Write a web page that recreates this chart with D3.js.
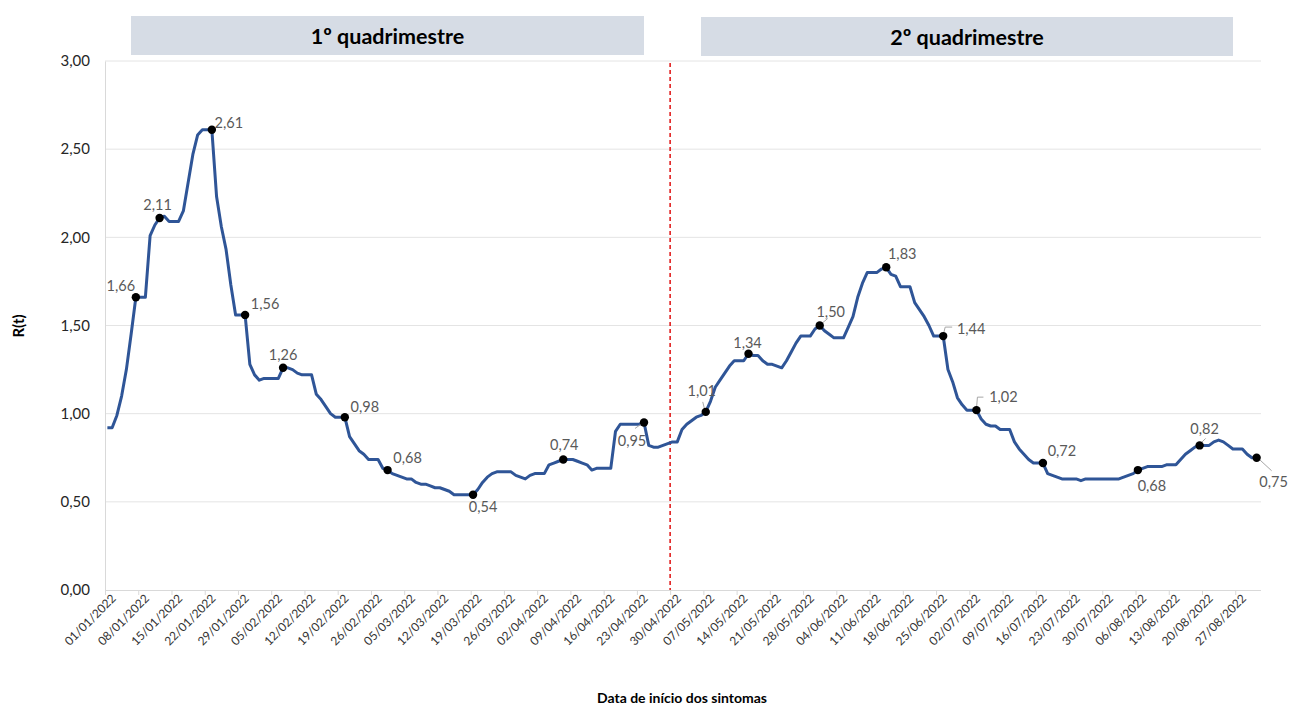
<!DOCTYPE html>
<html lang="pt">
<head>
<meta charset="utf-8">
<script src="https://cdn.jsdelivr.net/npm/d3@7"></script>
<style>
  html, body { margin: 0; padding: 0; background: #ffffff; }
  svg { display: block; font-family: Lato, "Open Sans", sans-serif; }
</style>
</head>
<body>
<svg id="chart" width="1291" height="704"></svg>
<script>
// Daily R(t) from 01/01/2022 onwards, by date of symptom onset
const startDate = "2022-01-01";
const rtValues = [
  0.92, 0.92, 0.99, 1.10, 1.25, 1.45, 1.66, 1.66, 1.66, 2.01, 2.07,
  2.11, 2.12, 2.09, 2.09, 2.09, 2.15, 2.31, 2.47, 2.58, 2.61,
  2.61, 2.61, 2.23, 2.06, 1.93, 1.73, 1.56, 1.56, 1.56, 1.28,
  1.22, 1.19, 1.20, 1.20, 1.20, 1.20, 1.26, 1.26, 1.25, 1.23,
  1.22, 1.22, 1.22, 1.11, 1.08, 1.04, 1.00, 0.98, 0.98, 0.98,
  0.87, 0.83, 0.79, 0.77, 0.74, 0.74, 0.74, 0.69, 0.68, 0.66,
  0.65, 0.64, 0.63, 0.63, 0.61, 0.60, 0.60, 0.59, 0.58, 0.58,
  0.57, 0.56, 0.54, 0.54, 0.54, 0.54, 0.54, 0.57, 0.61, 0.64,
  0.66, 0.67, 0.67, 0.67, 0.67, 0.65, 0.64, 0.63, 0.65, 0.66,
  0.66, 0.66, 0.71, 0.72, 0.73, 0.74, 0.74, 0.74, 0.73, 0.72,
  0.71, 0.68, 0.69, 0.69, 0.69, 0.69, 0.90, 0.94, 0.94, 0.94,
  0.94, 0.94, 0.95, 0.82, 0.81, 0.81, 0.82, 0.83, 0.84, 0.84,
  0.91, 0.94, 0.96, 0.98, 0.99, 1.01, 1.07, 1.15, 1.19, 1.23,
  1.27, 1.30, 1.30, 1.30, 1.34, 1.33, 1.33, 1.30, 1.28, 1.28,
  1.27, 1.26, 1.30, 1.35, 1.40, 1.44, 1.44, 1.44, 1.48, 1.50,
  1.47, 1.45, 1.43, 1.43, 1.43, 1.49, 1.55, 1.66, 1.74, 1.80,
  1.80, 1.80, 1.82, 1.83, 1.79, 1.78, 1.72, 1.72, 1.72, 1.63,
  1.59, 1.55, 1.50, 1.44, 1.44, 1.44, 1.25, 1.18, 1.09, 1.05,
  1.02, 1.02, 1.02, 0.97, 0.94, 0.93, 0.93, 0.91, 0.91, 0.91,
  0.84, 0.80, 0.77, 0.74, 0.72, 0.72, 0.72, 0.66, 0.65, 0.64,
  0.63, 0.63, 0.63, 0.63, 0.62, 0.63, 0.63, 0.63, 0.63, 0.63,
  0.63, 0.63, 0.63, 0.64, 0.65, 0.66, 0.68, 0.69, 0.70, 0.70,
  0.70, 0.70, 0.71, 0.71, 0.71, 0.74, 0.77, 0.79, 0.81, 0.82,
  0.82, 0.82, 0.84, 0.85, 0.84, 0.82, 0.80, 0.80, 0.80, 0.77,
  0.75, 0.75
];

// Days whose value is marked and labelled on the curve
const highlightDates = [
  "2022-01-07", "2022-01-12", "2022-01-23", "2022-01-30", "2022-02-07",
  "2022-02-20", "2022-03-01", "2022-03-19", "2022-04-07", "2022-04-24",
  "2022-05-07", "2022-05-16", "2022-05-31", "2022-06-14", "2022-06-26",
  "2022-07-03", "2022-07-17", "2022-08-06", "2022-08-19", "2022-08-31"
];

// Four-month periods shown as banners, and the boundary between them
const periodNames = ["1º quadrimestre", "2º quadrimestre"];
const periodBoundary = "2022-04-30";
const axisEnd = "2022-09-01";
const yTickValues = [0, 0.5, 1, 1.5, 2, 2.5, 3];

// Label offsets (dx, dy from the marker) and optional leader lines
const labelPlacement = [
  { dx: -15, dy: -12 }, { dx: -2, dy: -13 }, { dx: 17, dy: -7 }, { dx: 20, dy: -11 },
  { dx: 0, dy: -13 }, { dx: 20, dy: -11 }, { dx: 20, dy: -13 }, { dx: 10, dy: 12 },
  { dx: 1, dy: -15 },
  { dx: -12, dy: 18, leader: [[-2, 1], [-9, 6]] },
  { dx: -4, dy: -21, leader: [[-1, -2], [-3, -10]] },
  { dx: -1, dy: -11 },
  { dx: 11, dy: -14, leader: [[2, -2], [8, -7]] },
  { dx: 16, dy: -14 },
  { dx: 28, dy: -8, leader: [[0, -1], [2, -9], [9, -9]] },
  { dx: 27, dy: -14, leader: [[0, -1], [1, -13], [7, -13]] },
  { dx: 19, dy: -13 },
  { dx: 14, dy: 15 },
  { dx: 5, dy: -17, leader: [[1, -2], [6, -7]] },
  { dx: 17, dy: 24, leader: [[2, 1], [15, 13]] }
];

const parseDay = d3.timeParse("%Y-%m-%d");
const t0 = parseDay(startDate);
// each daily value sits in the middle of its day
const series = rtValues.map((v, i) => ({ date: d3.timeHour.offset(d3.timeDay.offset(t0, i), 12), value: v }));

const ptLocale = d3.formatLocale({ decimal: ",", thousands: ".", grouping: [3], currency: ["R$", ""] });
const fmt2 = ptLocale.format(".2f");

const svg = d3.select("#chart");
const plot = { left: 105, right: 1259, top: 61, bottom: 590, gridRight: 1261 };

const x = d3.scaleTime().domain([t0, parseDay(axisEnd)]).range([plot.left, plot.right]);
const y = d3.scaleLinear().domain([0, 3]).range([plot.bottom, plot.top]);

// Banners for each period
const banners = [
  { name: periodNames[0], x0: 131, x1: 644, y0: 16 },
  { name: periodNames[1], x0: 701, x1: 1233, y0: 17 }
];
const bannerG = svg.append("g");
bannerG.selectAll("rect").data(banners).join("rect")
  .attr("x", d => d.x0).attr("y", d => d.y0)
  .attr("width", d => d.x1 - d.x0).attr("height", 39)
  .attr("fill", "#d6dce5");
bannerG.selectAll("text").data(banners).join("text")
  .attr("x", d => (d.x0 + d.x1) / 2).attr("y", d => d.y0 + 20)
  .attr("text-anchor", "middle").attr("dominant-baseline", "central")
  .attr("font-size", 21.5).attr("font-weight", 700).attr("fill", "#000")
  .text(d => d.name);

// Horizontal gridlines
svg.append("g").selectAll("line").data(yTickValues.filter(v => v > 0)).join("line")
  .attr("x1", plot.left).attr("x2", plot.gridRight)
  .attr("y1", d => y(d)).attr("y2", d => y(d))
  .attr("stroke", "#e4e4e4").attr("stroke-width", 1);

// Y axis
const yAxis = svg.append("g").attr("transform", `translate(${plot.left},0)`)
  .call(d3.axisLeft(y).tickValues(yTickValues).tickSize(0).tickPadding(15).tickFormat(fmt2));
yAxis.select(".domain").attr("stroke", "#d9d9d9");
yAxis.selectAll("text").attr("font-size", 15).attr("fill", "#262626").attr("font-family", "Lato, sans-serif");

// X axis with weekly ticks (Saturdays)
const weekTicks = d3.timeSaturday.range(t0, parseDay(axisEnd));
const xAxis = svg.append("g").attr("transform", `translate(0,${plot.bottom})`)
  .call(d3.axisBottom(x).tickValues(weekTicks).tickSize(5).tickSizeOuter(0).tickFormat(d3.timeFormat("%d/%m/%Y")));
xAxis.select(".domain").attr("stroke", "#d9d9d9").attr("d", `M${plot.left},0.5H${plot.gridRight}`);
xAxis.selectAll(".tick line").attr("stroke", "#d9d9d9");
xAxis.selectAll("text")
  .attr("font-size", 12).attr("fill", "#333333").attr("font-family", "Lato, sans-serif")
  .attr("text-anchor", "end")
  .attr("transform", "translate(4,2) rotate(-45)")
  .attr("dx", 0).attr("dy", "0.35em").attr("y", 6).attr("x", 0);

// Boundary between the two periods
svg.append("line")
  .attr("x1", x(parseDay(periodBoundary))).attr("x2", x(parseDay(periodBoundary)))
  .attr("y1", plot.top + 2).attr("y2", plot.bottom)
  .attr("stroke", "#e01010").attr("stroke-width", 1.5).attr("stroke-dasharray", "4,3");

// R(t) curve
const line = d3.line().x(d => x(d.date)).y(d => y(d.value));
svg.append("path").datum(series)
  .attr("d", line).attr("fill", "none")
  .attr("stroke", "#2f5597").attr("stroke-width", 3).attr("stroke-linejoin", "round");

// Highlighted points with labels
const fmtKey = d3.timeFormat("%Y-%m-%d");
const byDay = new Map(series.map(d => [fmtKey(d.date), d]));
const highlights = highlightDates.map((k, i) => ({ ...byDay.get(k), place: labelPlacement[i] }));

const hl = svg.append("g");
hl.selectAll("path.leader").data(highlights.filter(d => d.place.leader)).join("path")
  .attr("class", "leader")
  .attr("d", d => {
    const cx = x(d.date), cy = y(d.value);
    return "M" + d.place.leader.map(p => [cx + p[0], cy + p[1]].join(",")).join("L");
  })
  .attr("fill", "none").attr("stroke", "#a6a6a6").attr("stroke-width", 1);
hl.selectAll("circle").data(highlights).join("circle")
  .attr("cx", d => x(d.date)).attr("cy", d => y(d.value)).attr("r", 4.2)
  .attr("fill", "#000");
hl.selectAll("text").data(highlights).join("text")
  .attr("x", d => x(d.date) + d.place.dx).attr("y", d => y(d.value) + d.place.dy)
  .attr("text-anchor", "middle").attr("dominant-baseline", "central")
  .attr("font-size", 14.5).attr("fill", "#595959")
  .text(d => fmt2(d.value));

// Axis titles
svg.append("text")
  .attr("transform", "translate(18,326) rotate(-90)")
  .attr("text-anchor", "middle").attr("dominant-baseline", "central")
  .attr("font-size", 15).attr("font-weight", 700).attr("fill", "#000")
  .text("R(t)");
svg.append("text")
  .attr("x", 682).attr("y", 697)
  .attr("text-anchor", "middle").attr("dominant-baseline", "central")
  .attr("font-size", 14).attr("font-weight", 700).attr("fill", "#000")
  .text("Data de início dos sintomas");
</script>
</body>
</html>
